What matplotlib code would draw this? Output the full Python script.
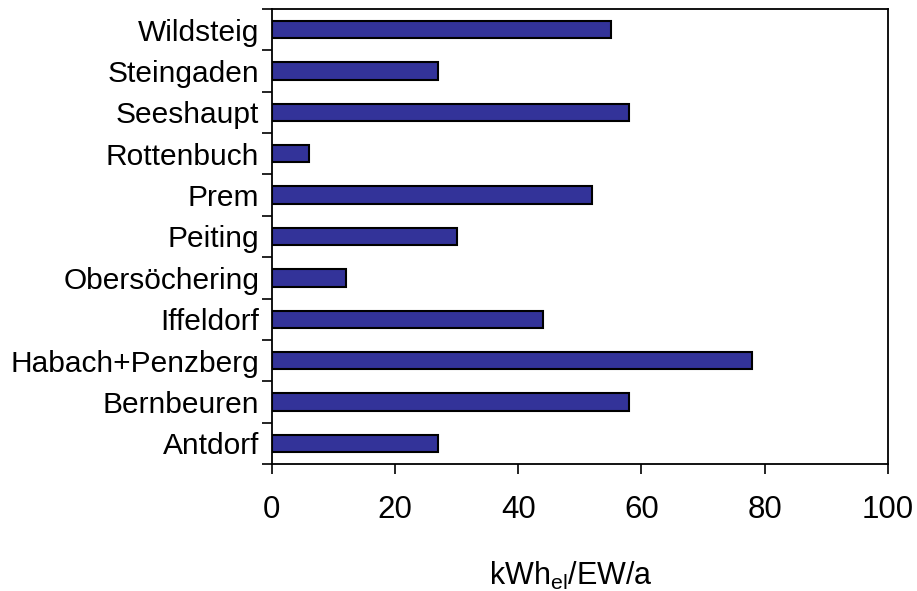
import matplotlib
matplotlib.use("Agg")
import matplotlib.pyplot as plt
import numpy as np

plt.rcParams['font.family'] = ['Liberation Sans', 'DejaVu Sans']
plt.rcParams['mathtext.default'] = 'regular'

# Gemeinden (von unten nach oben)
orte = ['Antdorf', 'Bernbeuren', 'Habach+Penzberg', 'Iffeldorf', 'Obersöchering',
        'Peiting', 'Prem', 'Rottenbuch', 'Seeshaupt', 'Steingaden', 'Wildsteig']
werte = [27, 58, 78, 44, 12, 30, 52, 6, 58, 27, 55]
xticks = [0, 20, 40, 60, 80, 100]

fig = plt.figure(figsize=(9.17, 5.91), dpi=100)
ax = fig.add_axes([0.2963, 0.2149, 0.6721, 0.7699])

y = np.arange(len(orte))
ax.barh(y, werte, height=0.42, color='#333399', edgecolor='black', linewidth=1.5)

ax.set_xlim(0, 100)
ax.set_ylim(-0.5, len(orte) - 0.5)
ax.set_xticks(xticks)
ax.set_xticklabels([str(v) for v in xticks], fontsize=22.5)
ax.set_yticks(y)
ax.set_yticklabels(orte, fontsize=21.5)
ax.set_yticks(np.arange(-0.5, len(orte)), minor=True)

ax.tick_params(axis='y', which='major', length=0, pad=9)
ax.tick_params(axis='y', which='minor', length=7.2, width=1.2, direction='out')
ax.tick_params(axis='x', which='major', length=7.2, width=1.2, direction='out', pad=15)

for s in ax.spines.values():
    s.set_linewidth(1.3)
    s.set_color('black')

ax.set_xlabel('kWh$_{el}$/EW/a', fontsize=22)
ax.xaxis.set_label_coords(0.485, -0.21)

plt.savefig('out.png', dpi=100)
